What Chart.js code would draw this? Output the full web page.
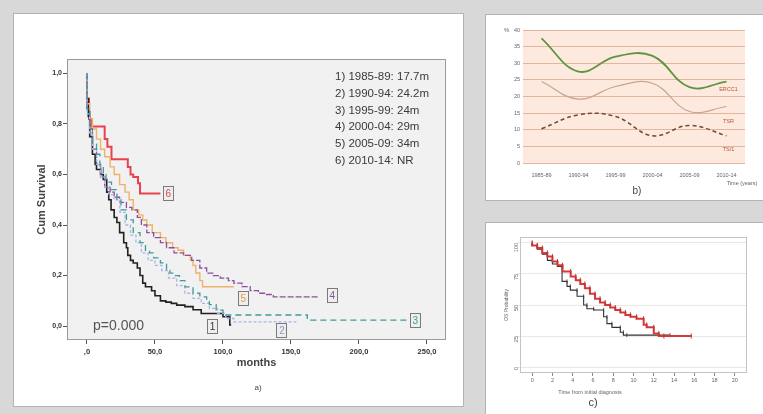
<!DOCTYPE html>
<html>
<head>
<meta charset="utf-8">
<script src="https://cdn.jsdelivr.net/npm/chart.js@4.4.1/dist/chart.umd.min.js"></script>
<style>
  body { margin: 0; width: 763px; height: 414px; overflow: hidden; position: relative;
         background: #d8d8d8; font-family: "Liberation Sans", Arial, sans-serif; }
  .panel { position: absolute; background: #fff; border: 1px solid #b3b3b3; box-sizing: border-box; }
  canvas { position: absolute; }
  .tag { position: absolute; color: #444; transform: translate(-50%, -50%); }
</style>
</head>
<body>
<div class="panel" style="left:13px;top:13px;width:451px;height:394px"></div>
<div class="panel" style="left:485px;top:14px;width:280px;height:187px"></div>
<div class="panel" style="left:485px;top:222px;width:280px;height:194px"></div>

<canvas id="chartA" width="449" height="392" style="left:14px;top:14px"></canvas>
<canvas id="chartB" width="277" height="185" style="left:486px;top:15px"></canvas>
<canvas id="chartC" width="277" height="191" style="left:486px;top:223px"></canvas>

<div class="tag" style="left:258px;top:387px;font-size:8px">a)</div>
<div class="tag" style="left:637px;top:190px;font-size:10px">b)</div>
<div class="tag" style="left:593px;top:402px;font-size:11px">c)</div>

<script>
// ---------- a) Kaplan-Meier by period (months, cum survival) ----------
const km1985 = [[0,1.0],[1,0.9],[2,0.83],[4,0.75],[6,0.68],[7,0.64],[10,0.62],[12,0.6],[14.5,0.58],[16,0.53],[17.7,0.5],[20,0.46],[22,0.43],[24,0.41],[27,0.37],[29,0.33],[30,0.31],[32,0.28],[34,0.26],[37,0.25],[39,0.23],[41,0.2],[43,0.17],[47.5,0.156],[50,0.14],[54,0.12],[58,0.1],[62,0.095],[66,0.09],[72,0.083],[78,0.077],[84,0.065],[88,0.05],[100,0.05],[105,0.037],[106,0.005]];
const km1990 = [[0,1.0],[2,0.84],[4,0.76],[7,0.7],[10,0.64],[13,0.59],[16,0.55],[20,0.52],[24.2,0.5],[28,0.45],[32,0.4],[36,0.36],[40,0.33],[45,0.29],[50,0.26],[55,0.24],[60,0.22],[66,0.19],[72,0.16],[78,0.13],[84,0.11],[90,0.09],[96,0.07],[102,0.05],[108,0.03],[114,0.017],[154,0.017]];
const km1995 = [[0,1.0],[2,0.86],[4,0.78],[7,0.72],[9.5,0.68],[12,0.63],[14,0.6],[18,0.57],[22,0.54],[25,0.5],[29,0.46],[34,0.42],[39,0.37],[43,0.33],[46,0.3],[49,0.29],[54,0.27],[58.5,0.25],[61,0.22],[64,0.21],[68,0.2],[72,0.18],[78,0.155],[83,0.13],[88,0.116],[90,0.1],[95,0.085],[100,0.063],[107.6,0.044],[162,0.044],[166,0.024],[237,0.024]];
const km2000 = [[0,1.0],[2,0.86],[4,0.78],[7,0.7],[10,0.64],[13,0.59],[17,0.55],[20,0.53],[24,0.51],[29,0.49],[33,0.47],[37,0.46],[40,0.43],[44,0.4],[49,0.37],[54,0.35],[58.5,0.33],[64,0.31],[71,0.29],[77,0.28],[83,0.26],[88,0.23],[93,0.21],[98,0.2],[104,0.19],[108,0.18],[114,0.17],[120,0.156],[126,0.14],[132,0.13],[137,0.125],[142,0.116],[171,0.116]];
const km2005 = [[0,1.0],[2,0.88],[4,0.82],[7,0.78],[10,0.74],[13,0.7],[17,0.67],[20,0.63],[24,0.6],[28,0.56],[31,0.53],[34,0.5],[38,0.46],[41,0.44],[44,0.42],[48,0.4],[54,0.37],[58,0.35],[63,0.33],[67,0.31],[71,0.3],[76,0.28],[78,0.26],[80,0.24],[83,0.21],[85,0.18],[87,0.156],[108,0.156]];
const km2010 = [[0,1.0],[1.5,0.9],[3.4,0.82],[7,0.79],[13,0.79],[15,0.74],[18,0.71],[21.8,0.66],[30,0.66],[32,0.63],[34,0.6],[37.5,0.59],[39,0.565],[41,0.525],[54,0.525]];

const xTicksA = [0, 50, 100, 150, 200, 250];
const xTickLabelsA = [',0', '50,0', '100,0', '150,0', '200,0', '250,0'];
const yTicksA = [0, 0.2, 0.4, 0.6, 0.8, 1.0];
const yTickLabelsA = ['0,0', '0,2', '0,4', '0,6', '0,8', '1,0'];
const legendLinesA = ['1) 1985-89: 17.7m', '2) 1990-94: 24.2m', '3) 1995-99: 24m', '4) 2000-04: 29m', '5) 2005-09: 34m', '6) 2010-14: NR'];
const curveTagsA = [['1', 92, 0.0], ['2', 143, -0.016], ['3', 241, 0.024], ['4', 180, 0.123], ['5', 114.5, 0.11], ['6', 59.5, 0.527]];

// ---------- b) percentages per period ----------
const periods = ['1985-89', '1990-94', '1995-99', '2000-04', '2005-09', '2010-14'];
const greenPct = [37.5, 27.5, 32, 32.2, 22.8, 24.5];
const tanPct = [24.5, 19.2, 23, 24, 15.5, 17];
const dashPct = [10.3, 14.5, 14, 8.2, 11.3, 8.2];
const seriesNamesB = ['ERCC1', 'TSR', 'TS/1'];
const seriesNameValsB = [22.2, 12.5, 4];

// ---------- c) OS probability (years) ----------
const osBlack = [[0,100],[0.5,98],[1,95],[1.5,91],[2,86],[2.5,83],[2.95,81],[3.44,69],[3.77,65],[4.43,62],[5.08,57],[5.4,50],[6.07,47],[7.05,46],[7.38,40.5],[7.87,35],[8.7,32],[9.0,28],[9.34,25.7],[13.6,25.7]];
const osRed = [[0,100],[0.5,98],[1,96],[1.5,92],[2,89],[2.5,85],[3,82],[3.8,77],[4.3,73],[4.75,70],[5.2,67],[5.7,63.5],[6.2,59],[6.7,55],[7.2,52],[7.7,50],[8.2,48],[8.7,46],[9.2,44],[9.7,42],[10.3,40.5],[11,39],[11.3,34],[12,32],[12.5,27],[13,25],[15.7,25]];
const xTicksC = [0, 2, 4, 6, 8, 10, 12, 14, 16, 18, 20];
const yTicksC = [0, 25, 50, 75, 100];

const FONT = 'Liberation Sans';
const pts = arr => arr.map(p => ({ x: p[0], y: p[1] }));

// background fill / frame / free text
const decor = {
    id: 'decor',
    beforeDraw(chart, args, opts) {
        const a = chart.chartArea, ctx = chart.ctx;
        if (opts.bg) {
            ctx.save();
            ctx.fillStyle = opts.bg;
            ctx.fillRect(a.left, a.top, a.right - a.left, a.bottom - a.top);
            ctx.restore();
        }
    },
    afterDraw(chart, args, opts) {
        const a = chart.chartArea, ctx = chart.ctx;
        ctx.save();
        if (opts.frame) {
            ctx.strokeStyle = opts.frame;
            ctx.lineWidth = 1;
            ctx.strokeRect(a.left + 0.5, a.top + 0.5, a.right - a.left - 1, a.bottom - a.top - 1);
        }
        (opts.texts || []).forEach(t => {
            ctx.font = t.font;
            ctx.fillStyle = t.color;
            ctx.textAlign = t.align || 'left';
            ctx.textBaseline = 'middle';
            ctx.fillText(t.text, a.left + t.dx, a.top + t.dy);
        });
        if (opts.tags) opts.tags(chart, ctx);
        ctx.restore();
    }
};

function fixedTicks(values) {
    return s => { s.ticks = values.map(v => ({ value: v })); };
}

// -------- a) --------
const tagColorsA = { '1': '#333', '2': '#8e96c4', '3': '#3f9a9a', '4': '#7b5a8a', '5': '#e0a040', '6': '#d8444e' };

const textsA = legendLinesA.map((t, i) => ({
    text: t, dx: 268, dy: 18 + i * 16.7, font: '11.5px ' + FONT, color: '#3a3a3a'
}));
textsA.push({ text: 'p=0.000', dx: 26, dy: 267, font: '14px ' + FONT, color: '#555' });

new Chart(document.getElementById('chartA'), {
    type: 'line',
    data: {
        datasets: [
            { data: pts(km1995), borderColor: '#3f9a9a', borderDash: [6, 4], borderWidth: 1.3 },
            { data: pts(km1990), borderColor: '#aab4e6', borderDash: [3, 2], borderWidth: 1.3 },
            { data: pts(km2000), borderColor: '#8e4f9e', borderDash: [6, 2], borderWidth: 1.3 },
            { data: pts(km2005), borderColor: '#f0b26a', borderWidth: 1.4 },
            { data: pts(km1985), borderColor: '#222222', borderWidth: 1.6 },
            { data: pts(km2010), borderColor: '#e8424f', borderWidth: 2 }
        ]
    },
    options: {
        responsive: false,
        animation: false,
        datasets: { line: { stepped: 'after', pointRadius: 0, fill: false } },
        layout: { padding: { left: 18, top: 45, right: 17, bottom: 0 } },
        plugins: {
            legend: { display: false },
            tooltip: { enabled: false },
            decor: {
                bg: '#f1f1f1',
                frame: '#9a9a9a',
                texts: textsA,
                tags: (chart, ctx) => {
                    const sx = chart.scales.x, sy = chart.scales.y;
                    curveTagsA.forEach(([n, m, v]) => {
                        const px = sx.getPixelForValue(m), py = sy.getPixelForValue(v);
                        ctx.fillStyle = '#eeeeee';
                        ctx.fillRect(px - 5, py - 7, 10, 14);
                        ctx.strokeStyle = '#7a7a7a';
                        ctx.lineWidth = 1;
                        ctx.strokeRect(Math.round(px - 5) + 0.5, Math.round(py - 7) + 0.5, 10, 14);
                        ctx.fillStyle = tagColorsA[n];
                        ctx.font = '10px ' + FONT;
                        ctx.textAlign = 'center';
                        ctx.textBaseline = 'middle';
                        ctx.fillText(n, px + 0.5, py + 1);
                    });
                }
            }
        },
        scales: {
            x: {
                type: 'linear', min: -14.7, max: 264,
                afterBuildTicks: fixedTicks(xTicksA),
                afterFit: s => { s.height = 66; },
                border: { display: false },
                grid: { drawOnChartArea: false, tickLength: 4, color: '#555' },
                ticks: { padding: 3, color: '#333', font: { family: FONT, size: 7.5, weight: 'bold' },
                         maxRotation: 0, callback: (v, i) => xTickLabelsA[i] },
                title: { display: true, text: 'months', color: '#444', padding: { top: 0, bottom: 36 },
                         font: { family: FONT, size: 11, weight: 'bold' } }
            },
            y: {
                type: 'linear', min: -0.055, max: 1.057,
                afterBuildTicks: fixedTicks(yTicksA),
                afterFit: s => { s.width = 35; },
                border: { display: false },
                grid: { drawOnChartArea: false, tickLength: 4, color: '#555' },
                ticks: { padding: 1, color: '#333', font: { family: FONT, size: 7, weight: 'bold' },
                         callback: (v, i) => yTickLabelsA[i] },
                title: { display: true, text: 'Cum Survival', color: '#444', padding: { top: 3, bottom: 0 },
                         font: { family: FONT, size: 11, weight: 'bold' } }
            }
        }
    },
    plugins: [decor]
});

// -------- b) --------
const textsB = [
    { text: '%', dx: -19, dy: 0, font: '6px ' + FONT, color: '#666' },
    { text: 'Time (years)', dx: 219, dy: 153, font: '5.5px ' + FONT, color: '#666', align: 'center' }
];

new Chart(document.getElementById('chartB'), {
    type: 'line',
    data: {
        labels: periods,
        datasets: [
            { data: greenPct, borderColor: '#5d9640', borderWidth: 1.8 },
            { data: tanPct, borderColor: '#c9a48e', borderWidth: 1.2 },
            { data: dashPct, borderColor: '#6e4a3a', borderWidth: 1.5, borderDash: [4, 3] }
        ]
    },
    options: {
        responsive: false,
        animation: false,
        datasets: { line: { tension: 0.4, pointRadius: 0, fill: false } },
        layout: { padding: { left: 0, top: 15, right: 18, bottom: 0 } },
        plugins: {
            legend: { display: false },
            tooltip: { enabled: false },
            decor: {
                bg: '#fde9dd',
                texts: textsB,
                tags: (chart, ctx) => {
                    const sx = chart.scales.x, sy = chart.scales.y;
                    const px = sx.getPixelForValue(periods.length - 1);
                    ctx.fillStyle = '#b8553a';
                    ctx.font = '5.5px ' + FONT;
                    ctx.textAlign = 'center';
                    ctx.textBaseline = 'middle';
                    seriesNamesB.forEach((n, i) => ctx.fillText(n, px + 2, sy.getPixelForValue(seriesNameValsB[i])));
                }
            }
        },
        scales: {
            x: {
                type: 'category', offset: true,
                afterFit: s => { s.height = 37; },
                border: { display: false },
                grid: { display: false },
                ticks: { padding: 1, color: '#666', font: { family: FONT, size: 5.5 }, maxRotation: 0, autoSkip: false }
            },
            y: {
                min: 0, max: 40,
                afterFit: s => { s.width = 37; },
                border: { display: false },
                grid: { color: '#e3b6a0', drawTicks: false },
                ticks: { stepSize: 5, padding: 3, color: '#666', font: { family: FONT, size: 5.5 } }
            }
        }
    },
    plugins: [decor]
});

// -------- c) --------
const textsC = [
    { text: 'Time from initial diagnosis', dx: 70, dy: 155, font: '5.5px ' + FONT, color: '#666', align: 'center' }
];

new Chart(document.getElementById('chartC'), {
    type: 'line',
    data: {
        datasets: [
            { data: pts(osRed), borderColor: '#d23a3a', borderWidth: 2,
              pointRadius: 2.5, pointStyle: 'line', rotation: 90, pointBorderColor: '#c03030', pointBorderWidth: 1 },
            { data: pts(osBlack), borderColor: '#333333', borderWidth: 1.1,
              pointRadius: 2, pointStyle: 'line', rotation: 90, pointBorderColor: '#333', pointBorderWidth: 0.8 }
        ]
    },
    options: {
        responsive: false,
        animation: false,
        datasets: { line: { stepped: 'after', fill: false } },
        layout: { padding: { left: 18, top: 14, right: 16, bottom: 0 } },
        plugins: {
            legend: { display: false },
            tooltip: { enabled: false },
            decor: { frame: '#c4c4c4', texts: textsC }
        },
        scales: {
            x: {
                type: 'linear', min: -1.2, max: 21.2,
                afterBuildTicks: fixedTicks(xTicksC),
                afterFit: s => { s.height = 41; },
                border: { display: false },
                grid: { drawOnChartArea: false, tickLength: 3, color: '#888' },
                ticks: { padding: 1, color: '#666', font: { family: FONT, size: 5.5 }, maxRotation: 0 }
            },
            y: {
                type: 'linear', min: -4.8, max: 104.8,
                afterBuildTicks: fixedTicks(yTicksC),
                afterFit: s => { s.width = 16; },
                border: { display: false },
                grid: { color: '#e8e8e8', tickLength: 3 },
                ticks: { padding: 1, color: '#666', font: { family: FONT, size: 5.5 }, minRotation: 90, maxRotation: 90 },
                title: { display: true, text: 'OS Probability', color: '#666', padding: 0,
                         font: { family: FONT, size: 5 } }
            }
        }
    },
    plugins: [decor]
});
</script>
</body>
</html>
